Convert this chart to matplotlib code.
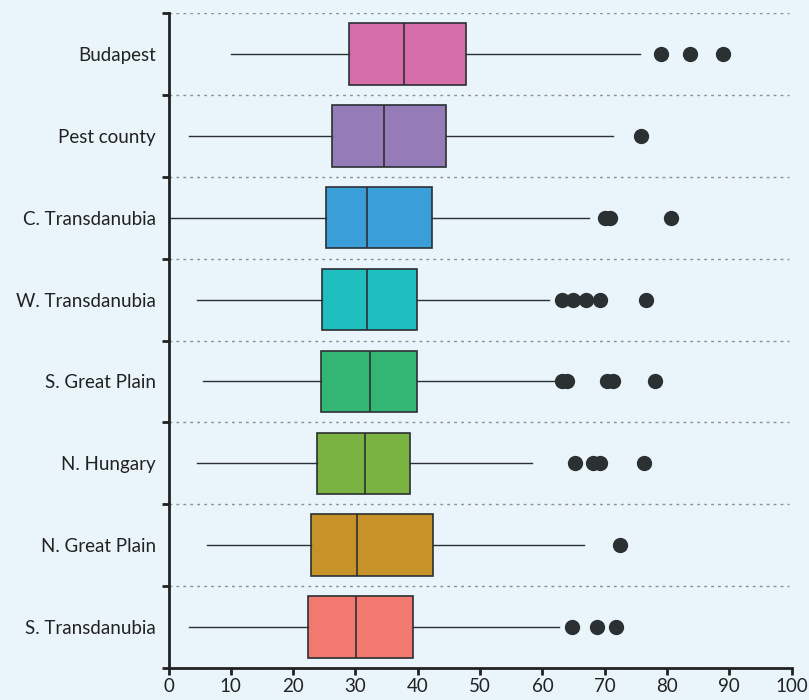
import matplotlib.pyplot as plt

# regions, top to bottom
regions = ['Budapest', 'Pest county', 'C. Transdanubia', 'W. Transdanubia',
           'S. Great Plain', 'N. Hungary', 'N. Great Plain', 'S. Transdanubia']
colors = ['#D56DAA', '#957BB8', '#3A9ED8', '#20BFBF',
          '#33B673', '#7AB342', '#C79227', '#F27970']

# box plot statistics
whislo = [10.0, 3.3, 0.2, 4.5, 5.6, 4.5, 6.1, 3.3]
q1 = [29.0, 26.3, 25.3, 24.6, 24.4, 23.8, 22.8, 22.4]
med = [37.8, 34.5, 31.9, 31.8, 32.3, 31.6, 30.2, 30.1]
q3 = [47.7, 44.6, 42.3, 39.8, 39.8, 38.7, 42.4, 39.3]
whishi = [75.6, 71.4, 67.5, 61.0, 62.0, 58.3, 66.6, 62.7]
fliers = [
    [79.0, 83.7, 88.9],
    [75.8],
    [70.0, 70.9, 80.7],
    [63.1, 64.9, 67.0, 69.2, 76.6],
    [63.1, 64.0, 70.3, 71.4, 78.0],
    [65.2, 68.1, 69.3, 76.3],
    [72.4],
    [64.7, 68.8, 71.8],
]

xticks = [0, 10, 20, 30, 40, 50, 60, 70, 80, 90, 100]

bg = '#E9F4FB'
dark = '#2B3033'

plt.rcParams['font.family'] = ['Lato', 'DejaVu Sans']

fig = plt.figure(figsize=(8.09, 7.0), dpi=100, facecolor=bg)
ax = fig.add_axes([0.2083, 0.0457, 0.7703, 0.9357])
ax.set_facecolor(bg)

stats = []
for i in range(len(regions)):
    stats.append(dict(label=regions[i], whislo=whislo[i], q1=q1[i], med=med[i],
                      q3=q3[i], whishi=whishi[i], fliers=fliers[i]))

pos = list(range(len(regions)))
bp = ax.bxp(stats, positions=pos, vert=False, widths=0.75, patch_artist=True,
            showcaps=False,
            boxprops=dict(edgecolor=dark, linewidth=1.2),
            medianprops=dict(color=dark, linewidth=1.2),
            whiskerprops=dict(color=dark, linewidth=1.0),
            flierprops=dict(marker='o', markerfacecolor=dark, markeredgecolor=dark,
                            markersize=10, linestyle='none'))
for patch, c in zip(bp['boxes'], colors):
    patch.set_facecolor(c)

# dotted separators between regions
for b in range(len(regions) + 1):
    ax.axhline(b - 0.5, xmin=0, xmax=0.995, color='#8A8F94', linestyle=(0, (2, 3)),
               linewidth=1.0, zorder=0)

ax.set_xlim(0, 100)
ax.set_ylim(len(regions) - 0.5, -0.5)
ax.set_xticks(xticks)
ax.set_yticks(pos)
ax.set_yticklabels(regions)
ax.set_yticks([b - 0.5 for b in range(len(regions) + 1)], minor=True)

ax.tick_params(axis='y', which='major', length=0, pad=9, labelsize=13.5, labelcolor='#222222')
ax.tick_params(axis='y', which='minor', length=5, width=2, color='#222222')
ax.tick_params(axis='x', length=5, width=2, color='#222222', labelsize=13.5,
               labelcolor='#222222', pad=2)

for s in ['top', 'right']:
    ax.spines[s].set_visible(False)
for s in ['left', 'bottom']:
    ax.spines[s].set_linewidth(2)
    ax.spines[s].set_color('#222222')

fig.savefig('out.png', dpi=100, facecolor=bg)
